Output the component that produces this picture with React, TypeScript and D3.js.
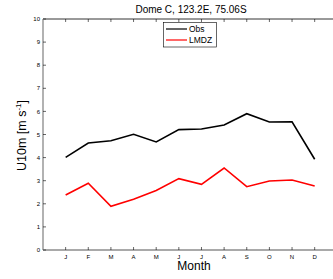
import React, { useEffect, useRef } from 'react';
import * as d3 from 'd3';

const months = ['J', 'F', 'M', 'A', 'M', 'J', 'J', 'A', 'S', 'O', 'N', 'D'];
const obs = [4.01, 4.63, 4.73, 5.01, 4.68, 5.21, 5.24, 5.41, 5.9, 5.54, 5.55, 3.93];
const lmdz = [2.38, 2.89, 1.89, 2.2, 2.58, 3.09, 2.84, 3.55, 2.74, 2.99, 3.03, 2.77];
const yTicks = [0, 1, 2, 3, 4, 5, 6, 7, 8, 9, 10];

const W = 333;
const H = 279;
const left = 43;
const top = 19;
const bottom = 250;

const App = () => {
  const svgRef = useRef<SVGSVGElement>(null);

  useEffect(() => {
    const svg = d3.select(svgRef.current);
    svg.selectAll('*').remove();

    const x = d3.scaleLinear().domain([0, 13]).range([left, left + 13 * 22.64]);
    const y = d3.scaleLinear().domain([0, 10]).range([bottom, top]);

    svg.append('rect').attr('width', W).attr('height', H).attr('fill', '#fff');

    // box
    svg.append('line').attr('x1', left).attr('x2', W).attr('y1', top).attr('y2', top)
      .attr('stroke', '#000').attr('stroke-width', 0.8);
    svg.append('line').attr('x1', left).attr('x2', W).attr('y1', bottom).attr('y2', bottom)
      .attr('stroke', '#555').attr('stroke-width', 1.2);
    svg.append('line').attr('x1', left).attr('x2', left).attr('y1', top).attr('y2', bottom)
      .attr('stroke', '#999').attr('stroke-width', 1.5);

    // y ticks
    const yg = svg.append('g');
    yTicks.forEach(t => {
      yg.append('line').attr('x1', left).attr('x2', left + 3).attr('y1', y(t)).attr('y2', y(t))
        .attr('stroke', '#000').attr('stroke-width', 0.6);
      yg.append('text').attr('x', left - 3).attr('y', y(t)).attr('dy', '0.35em')
        .attr('text-anchor', 'end').attr('font-size', 6).text(t);
    });

    // x ticks
    const xg = svg.append('g');
    months.forEach((m, i) => {
      const xp = x(i + 1);
      xg.append('line').attr('x1', xp).attr('x2', xp).attr('y1', bottom).attr('y2', bottom - 3)
        .attr('stroke', '#000').attr('stroke-width', 0.6);
      xg.append('line').attr('x1', xp).attr('x2', xp).attr('y1', top).attr('y2', top + 3)
        .attr('stroke', '#000').attr('stroke-width', 0.6);
      xg.append('text').attr('x', xp).attr('y', bottom + 9)
        .attr('text-anchor', 'middle').attr('font-size', 6).text(m);
    });

    const line = d3.line<number>().x((_, i) => x(i + 1)).y(d => y(d));
    svg.append('path').datum(obs).attr('d', line).attr('fill', 'none')
      .attr('stroke', '#000').attr('stroke-width', 1.6);
    svg.append('path').datum(lmdz).attr('d', line).attr('fill', 'none')
      .attr('stroke', '#f00').attr('stroke-width', 1.6);

    // legend
    const lg = svg.append('g');
    lg.append('rect').attr('x', 163.5).attr('y', 22.5).attr('width', 53).attr('height', 24.5)
      .attr('fill', '#fff').attr('stroke', '#000').attr('stroke-width', 0.6);
    [['Obs', '#000'], ['LMDZ', '#f00']].forEach(([name, c], i) => {
      const ly = 29 + i * 11;
      lg.append('line').attr('x1', 166).attr('x2', 187).attr('y1', ly).attr('y2', ly)
        .attr('stroke', c).attr('stroke-width', 1.2);
      lg.append('text').attr('x', 189).attr('y', ly).attr('dy', '0.35em')
        .attr('font-size', 8.5).text(name);
    });

    svg.append('text').attr('x', 191).attr('y', 13).attr('text-anchor', 'middle')
      .attr('font-size', 10).text('Dome C, 123.2E, 75.06S');

    svg.append('text').attr('x', 194).attr('y', 270).attr('text-anchor', 'middle')
      .attr('font-size', 12).text('Month');

    const yl = svg.append('text')
      .attr('transform', `translate(26,135.5) rotate(-90)`)
      .attr('text-anchor', 'middle').attr('font-size', 12.5);
    yl.append('tspan').text('U10m [m s');
    yl.append('tspan').attr('dy', -5).attr('font-size', 8).text('-1');
    yl.append('tspan').attr('dy', 5).text(']');
  }, []);

  return (
    <svg ref={svgRef} width={W} height={H}
      style={{ position: 'absolute', left: 0, top: 0, fontFamily: 'Liberation Sans, Arial, sans-serif' }} />
  );
};

export default App;
